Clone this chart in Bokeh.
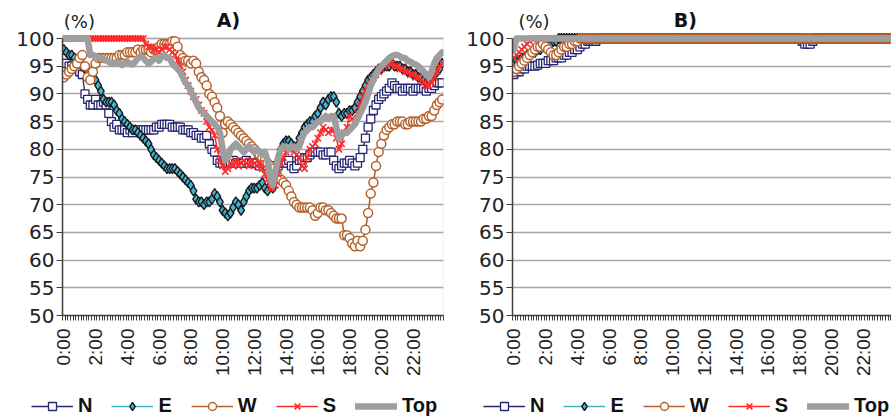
import math
from bokeh.plotting import figure
from bokeh.models import Range1d, FixedTicker, Legend, LegendItem, Label, BoxAnnotation
from bokeh.layouts import row, column
from bokeh.embed import file_html
from bokeh.resources import INLINE

# ---- data: 144 ten-minute slots per day ----
n_slots = 144
slot_hours = [i / 6 for i in range(n_slots)]

tick_hours = [0, 2, 4, 6, 8, 10, 12, 14, 16, 18, 20, 22]
tick_labels = ["0:00", "2:00", "4:00", "6:00", "8:00", "10:00", "12:00",
               "14:00", "16:00", "18:00", "20:00", "22:00"]
y_ticks = [50, 55, 60, 65, 70, 75, 80, 85, 90, 95, 100]
series_names = ["N", "E", "W", "S", "Top"]

# Panel A
N_A = [95.5, 95.5, 95, 95, 94.5, 94.5, 94, 93.5, 90, 89, 88, 88,
       89, 88, 88, 88.5, 88, 86.5, 85, 84, 84.5, 83.5, 83.5, 83.5,
       83, 83.5, 83, 83.5, 83.5, 83, 83.5, 83.5, 83.5, 83.5, 83.5, 84,
       84, 84.5, 84.5, 84.5, 84.5, 84, 84, 84, 84, 83.5, 83.5, 83.5,
       83, 83, 82.5, 82.5, 82, 82, 82.5, 81, 80, 79.5, 78, 77.5,
       77.5, 78, 77.5, 77.5, 78, 77.5, 77.5, 77.5, 77.5, 78, 77.5, 77.5,
       77.5, 77.5, 77, 77.5, 77.5, 77, 77, 76.5, 77, 77, 77.5, 77.5,
       77.5, 78, 77, 76.5, 77, 78, 78, 78.5, 78.5, 79, 79.5, 79.5,
       79.5, 79.5, 79, 79, 79.5, 79.5, 78, 77, 76.5, 77, 77.5, 77.5,
       78, 77.5, 77, 77.5, 78.5, 80, 82, 84, 85.5, 87, 88, 89,
       89.5, 90, 90.5, 91, 92, 91.5, 91, 91, 90.5, 91, 91, 91,
       90.5, 91, 91, 91, 91, 90.5, 91, 91, 91.5, 92, 92, 92]
E_A = [98, 97.5, 97, 97, 96.5, 96, 95.5, 95, 94.5, 94, 93.5, 93,
       92.5, 91.5, 90.5, 89, 88.5, 88.5, 88.5, 88, 87, 86.5, 85.5, 85,
       84.5, 84, 83.5, 83.5, 83, 82.5, 82, 81.5, 81, 80, 79, 78.5,
       78, 77.5, 77, 76.5, 76.5, 76.5, 76.5, 76, 75.5, 75, 74.5, 74,
       73.5, 72.5, 71, 70.5, 70.5, 70, 70.5, 70.5, 71, 72, 71.5, 70.5,
       69, 68.5, 68, 68.5, 69.5, 70.5, 70, 69, 70.5, 71.5, 72.5, 73,
       73, 73, 73.5, 74, 73, 72.5, 73.5, 73, 74.5, 78, 80, 81,
       81.5, 81.5, 81, 80.5, 80.5, 82, 83, 84, 84.5, 85, 85, 86,
       86.5, 87.5, 88.5, 88, 89, 89.5, 89.5, 88.5, 86.5, 86, 86.5, 86.5,
       87, 87, 87.5, 88.5, 89.5, 90.5, 91.5, 92.5, 93, 93.5, 94, 94.5,
       94.5, 95, 95, 95, 95.5, 95, 95, 95, 94.5, 94.5, 94, 94,
       93.5, 93.5, 93, 93, 92.5, 92, 92.5, 93, 93.5, 94, 94.5, 95.5]
W_A = [93, 93.5, 94, 94.5, 95, 95.5, 96.5, 97, 95, 93, 92.5, 94,
       95.5, 96.5, 96.5, 96.5, 96.5, 96.5, 96.5, 96.5, 96.5, 97, 97, 97,
       97.5, 97.5, 97.5, 97.5, 98, 97.5, 98, 98, 98, 97.5, 98, 98,
       98.5, 99, 99, 99, 99, 99.5, 99.5, 98.5, 97, 96.5, 96, 96,
       95.5, 96, 95.5, 94, 93, 92.5, 91.5, 90, 89.5, 88.5, 87.5, 86,
       83, 84.5, 85, 84.5, 84, 83.5, 83, 82.5, 82, 81.5, 81, 80.5,
       80, 79.5, 79, 78.5, 78, 77.5, 77, 76.5, 75.5, 75, 74.5, 74,
       73.5, 72.5, 71.5, 70.5, 70, 69.5, 69.5, 69.5, 69.5, 69.5, 69, 68,
       68.5, 69.5, 69.5, 69, 69, 68.5, 68, 67.5, 67.5, 67.5, 64.5, 64.5,
       64, 63, 62.5, 63.5, 62.5, 63.5, 65.5, 68.5, 72, 74, 77, 79.5,
       81, 82.5, 83.5, 84, 84.5, 84.5, 85, 85, 85, 84.5, 84.5, 85,
       85, 85, 85, 85, 85.5, 85.5, 86, 86, 87, 88, 88.5, 89]
S_A = [100, 100, 100, 100, 100, 100, 100, 100, 100, 100, 100, 100,
       100, 100, 100, 100, 100, 100, 100, 100, 100, 100, 100, 100,
       100, 100, 100, 100, 100, 100, 100, 99, 98.5, 98.5, 98, 98,
       97.5, 98, 98.5, 98.5, 98, 97.5, 97, 96, 95, 94, 92.5, 91.5,
       90.5, 89.5, 89, 88, 87, 86.5, 85, 84, 83.5, 82.5, 80, 78,
       77, 76, 76.5, 77.5, 77, 78, 77, 77.5, 78, 77.5, 77, 78,
       77.5, 77, 77.5, 76.5, 75.5, 74.5, 73, 73, 73.5, 75.5, 77.5, 78.5,
       79.5, 80, 80, 79.5, 79, 78.5, 77, 76.5, 78.5, 80, 80.5, 81,
       82, 83, 84, 83.5, 83, 83.5, 83.5, 82, 80, 81, 83, 84,
       86, 85.5, 85, 86.5, 88, 89.5, 90.5, 91.5, 92, 93, 93.5, 94,
       94.5, 95, 95.5, 95.5, 95.5, 95, 95, 94.5, 94.5, 94, 94, 93.5,
       93.5, 93, 93, 92.5, 92, 91.5, 91.5, 92, 93, 94, 95, 95.5]
Top_A = [100, 100, 100, 100, 100, 100, 100, 100, 100, 100, 97, 97,
         96.8, 96.5, 96.5, 96.2, 96, 95.8, 95.5, 95.5, 95.8, 95.5, 95.2, 95.5,
         95.8, 95.5, 95.3, 95.8, 96.5, 96.8, 96.5, 96, 95.5, 95.8, 96.3, 96.5,
         96, 96.8, 97, 96.5, 96.5, 95.5, 95, 94.5, 94, 93, 92, 91.5,
         90.5, 89.5, 88.5, 87.5, 87, 86.5, 86, 85.5, 85, 84.5, 84, 83,
         80, 78, 78.5, 80, 80.5, 81, 80.5, 80, 79.5, 80, 80.5, 80,
         79.5, 80, 79.5, 79, 79.5, 78, 75, 73.5, 76, 78.5, 80, 80.5,
         80.5, 80, 80.5, 80.5, 80, 80.5, 82, 83, 83.5, 84, 84, 84.5,
         85, 85, 85.5, 86, 85.5, 86, 86, 84, 82, 82.5, 83, 83,
         83.5, 84, 84.5, 85.5, 86.5, 87.5, 88.5, 90, 91.5, 92.5, 93.5, 94.5,
         95, 95.5, 96, 96.5, 96.8, 97, 97, 96.8, 96.5, 96.5, 96, 95.8,
         95.5, 95.3, 95, 94.5, 94, 93.5, 93, 94, 95.5, 96.5, 97, 97.5]

# Panel B
N_B = [93.5, 94, 94, 94.5, 94.5, 95, 95, 95, 95, 95.2, 95.5, 95.5,
       95.5, 96, 96, 96, 96.5, 96.5, 96.5, 97, 97, 97.5, 97.5, 98,
       98, 98.5, 99, 99, 99.5, 99.5, 99.5, 99.5, 100, 100, 100, 100,
       100, 100, 100, 100, 100, 100, 100, 100, 100, 100, 100, 100,
       100, 100, 100, 100, 100, 100, 100, 100, 100, 100, 100, 100,
       100, 100, 100, 100, 100, 100, 100, 100, 100, 100, 100, 100,
       100, 100, 100, 100, 100, 100, 100, 100, 100, 100, 100, 100,
       100, 100, 100, 100, 100, 100, 100, 100, 100, 100, 100, 100,
       100, 100, 100, 100, 100, 100, 100, 100, 100, 100, 100, 100,
       100, 99.5, 99, 99, 99, 99.5, 100, 100, 100, 100, 100, 100,
       100, 100, 100, 100, 100, 100, 100, 100, 100, 100, 100, 100,
       100, 100, 100, 100, 100, 100, 100, 100, 100, 100, 100, 100]
E_B = [95.5, 96, 96, 96.5, 96.5, 97, 97, 97.5, 97.5, 98, 98, 98.5,
       98.5, 99, 99, 99.5, 99.5, 100, 100, 100, 100, 100, 100, 100,
       100, 100, 100, 100, 100, 100, 100, 100, 100, 100, 100, 100,
       100, 100, 100, 100, 100, 100, 100, 100, 100, 100, 100, 100,
       100, 100, 100, 100, 100, 100, 100, 100, 100, 100, 100, 100,
       100, 100, 100, 100, 100, 100, 100, 100, 100, 100, 100, 100,
       100, 100, 100, 100, 100, 100, 100, 100, 100, 100, 100, 100,
       100, 100, 100, 100, 100, 100, 100, 100, 100, 100, 100, 100,
       100, 100, 100, 100, 100, 100, 100, 100, 100, 100, 100, 100,
       100, 100, 100, 100, 100, 100, 100, 100, 100, 100, 100, 100,
       100, 100, 100, 100, 100, 100, 100, 100, 100, 100, 100, 100,
       100, 100, 100, 100, 100, 100, 100, 100, 100, 100, 100, 100]
W_B = [94, 94.5, 95, 95.5, 96, 96.5, 97, 97.5, 98, 98.5, 98.5, 99,
       98.5, 98, 97.5, 97, 97, 97.5, 98, 98.5, 98.5, 99, 99, 99.5,
       99.5, 100, 100, 100, 100, 100, 100, 100, 100, 100, 100, 100,
       100, 100, 100, 100, 100, 100, 100, 100, 100, 100, 100, 100,
       100, 100, 100, 100, 100, 100, 100, 100, 100, 100, 100, 100,
       100, 100, 100, 100, 100, 100, 100, 100, 100, 100, 100, 100,
       100, 100, 100, 100, 100, 100, 100, 100, 100, 100, 100, 100,
       100, 100, 100, 100, 100, 100, 100, 100, 100, 100, 100, 100,
       100, 100, 100, 100, 100, 100, 100, 100, 100, 100, 100, 100,
       100, 100, 100, 100, 100, 100, 100, 100, 100, 100, 100, 100,
       100, 100, 100, 100, 100, 100, 100, 100, 100, 100, 100, 100,
       100, 100, 100, 100, 100, 100, 100, 100, 100, 100, 100, 100]
S_B = [96.5, 97, 97.5, 98, 98.5, 99, 99.5, 100, 100, 100, 100, 100,
       100, 100, 100, 100, 100, 100, 100, 100, 100, 100, 100, 100,
       100, 100, 100, 100, 100, 100, 100, 100, 100, 100, 100, 100,
       100, 100, 100, 100, 100, 100, 100, 100, 100, 100, 100, 100,
       100, 100, 100, 100, 100, 100, 100, 100, 100, 100, 100, 100,
       100, 100, 100, 100, 100, 100, 100, 100, 100, 100, 100, 100,
       100, 100, 100, 100, 100, 100, 100, 100, 100, 100, 100, 100,
       100, 100, 100, 100, 100, 100, 100, 100, 100, 100, 100, 100,
       100, 100, 100, 100, 100, 100, 100, 100, 100, 100, 100, 100,
       100, 100, 100, 100, 100, 100, 100, 100, 100, 100, 100, 100,
       100, 100, 100, 100, 100, 100, 100, 100, 100, 100, 100, 100,
       100, 100, 100, 100, 100, 100, 100, 100, 100, 100, 100, 100]
Top_B = [98, 100, 100, 100, 100, 100, 100, 100, 100, 100, 100, 100,
         100, 100, 100, 100, 100, 100, 100, 100, 100, 100, 100, 100,
         100, 100, 100, 100, 100, 100, 100, 100, 100, 100, 100, 100,
         100, 100, 100, 100, 100, 100, 100, 100, 100, 100, 100, 100,
         100, 100, 100, 100, 100, 100, 100, 100, 100, 100, 100, 100,
         100, 100, 100, 100, 100, 100, 100, 100, 100, 100, 100, 100,
         100, 100, 100, 100, 100, 100, 100, 100, 100, 100, 100, 100,
         100, 100, 100, 100, 100, 100, 100, 100, 100, 100, 100, 100,
         100, 100, 100, 100, 100, 100, 100, 100, 100, 100, 100, 100,
         100, 100, 100, 100, 100, 100, 100, 100, 100, 100, 100, 100,
         100, 100, 100, 100, 100, 100, 100, 100, 100, 100, 100, 100,
         100, 100, 100, 100, 100, 100, 100, 100, 100, 100, 100, 100]

# ---- styling ----
C_N = "#262673"
C_E = "#45B4D3"
C_E_EDGE = "#1A1A1A"
C_W = "#B5632C"
C_S = "#FF2A2A"
C_TOP = "#9E9E9E"
TICK_FONT = "DejaVu Sans"
HOUR_PX = 381 / 24.0
MAIN_H = 392
LEG_H = 25
FRAME_BOTTOM = 315          # page pixel of the 50 % line
PX_PER_UNIT = (315 - 38) / 50.0
Y_TOP = 100 + 38 / PX_PER_UNIT   # frame reaches the top of the page

STYLE = {
    "N": dict(line=dict(line_color=C_N, line_width=1.3),
              mark=dict(marker="square", size=8, line_color=C_N, fill_color="white",
                        line_width=1.3)),
    "E": dict(line=dict(line_color=C_E, line_width=1.6),
              mark=dict(marker="diamond", size=10, line_color=C_E_EDGE, fill_color=C_E,
                        line_width=1.4)),
    "W": dict(line=dict(line_color=C_W, line_width=1.6),
              mark=dict(marker="circle", size=9, line_color=C_W, fill_color="white",
                        line_width=1.5)),
    "S": dict(line=dict(line_color=C_S, line_width=1.6),
              mark=dict(marker="x", size=9, line_color=C_S, line_width=1.6)),
    "Top": dict(line=dict(line_color=C_TOP, line_width=6.5, line_join="round",
                          line_cap="round"), mark=None),
}


def make_panel(title, N, E, W, S, Top, width, border_left, border_right, frame_w,
               title_x, pct_x):
    x0 = -1 / 12
    x1 = x0 + frame_w / HOUR_PX
    p = figure(width=width, height=MAIN_H, output_backend="svg", toolbar_location=None,
               x_range=Range1d(x0, x1), y_range=Range1d(50, Y_TOP),
               min_border_left=border_left, min_border_right=border_right,
               min_border_top=0, min_border_bottom=MAIN_H - FRAME_BOTTOM)
    p.outline_line_color = None
    p.xgrid.visible = False
    p.ygrid.grid_line_color = "#A6A6A6"
    p.ygrid.grid_line_width = 1.3
    p.ygrid.ticker = FixedTicker(ticks=y_ticks)

    # plot-area border (Excel style)
    p.add_layout(BoxAnnotation(left=x0, right=24 - 1 / 12, bottom=50, top=100,
                               fill_alpha=0, line_color="#A6A6A6", line_width=1.3,
                               level="underlay"))

    yax = p.yaxis[0]
    yax.ticker = FixedTicker(ticks=y_ticks)
    yax.bounds = (50, 100)
    yax.major_tick_out = 6
    yax.major_tick_in = 0
    yax.minor_tick_out = 0
    yax.axis_line_color = "#404040"
    yax.axis_line_width = 1.5
    yax.major_tick_line_color = "#404040"
    yax.major_label_text_font = TICK_FONT
    yax.major_label_text_font_size = "20px"
    yax.major_label_text_color = "#222222"
    yax.major_label_standoff = 2

    xax = p.xaxis[0]
    minor = [h - 1 / 12 for h in slot_hours] + [slot_hours[-1] + 1 / 12]
    xax.ticker = FixedTicker(ticks=tick_hours, minor_ticks=minor)
    xax.major_label_overrides = {h: lab for h, lab in zip(tick_hours, tick_labels)}
    xax.major_label_orientation = math.pi / 2
    xax.major_tick_out = 0
    xax.major_tick_in = 0
    xax.minor_tick_out = 5
    xax.minor_tick_in = 0
    xax.minor_tick_line_color = "#404040"
    xax.axis_line_color = "#404040"
    xax.axis_line_width = 1.5
    xax.major_label_text_font = "Liberation Sans"
    xax.major_label_text_font_size = "19px"
    xax.major_label_text_color = "#222222"
    xax.major_label_standoff = 8

    data = {"N": N, "E": E, "W": W, "S": S, "Top": Top}
    for name in series_names:
        st = STYLE[name]
        p.line(slot_hours, data[name], **st["line"])
        if st["mark"] is not None:
            p.scatter(slot_hours, data[name], **st["mark"])

    p.add_layout(Label(x=pct_x, y=103.1, text="(%)", text_align="left",
                       text_baseline="alphabetic", text_font=TICK_FONT,
                       text_font_size="18px", text_color="#222222"))
    p.add_layout(Label(x=title_x, y=103.4, text=title, text_align="center",
                       text_baseline="alphabetic", text_font=TICK_FONT,
                       text_font_style="bold", text_font_size="19px",
                       text_color="#111111"))
    return p


def make_legend(width, leg_x, first_values):
    # legend strip: the sample glyphs use each series' first reading,
    # placed outside this strip's visible range so only the key is seen
    q = figure(width=width, height=LEG_H, output_backend="svg", toolbar_location=None,
               x_range=Range1d(1000, 1001), y_range=Range1d(1000, 1001),
               x_axis_type=None, y_axis_type=None, min_border=0)
    q.outline_line_color = None
    q.xgrid.visible = False
    q.ygrid.visible = False
    items = []
    for name in series_names:
        st = STYLE[name]
        xs, ys = [slot_hours[0]], [first_values[name]]
        rs = [q.line(xs, ys, **st["line"])]
        if st["mark"] is not None:
            rs.append(q.scatter(xs, ys, **st["mark"]))
        items.append(LegendItem(label=name, renderers=rs))
    leg = Legend(items=items, orientation="horizontal", location=(leg_x, 0),
                 glyph_width=42, glyph_height=20, label_standoff=5, spacing=19,
                 padding=0, margin=0, background_fill_alpha=0, border_line_alpha=0,
                 label_text_font="Liberation Sans", label_text_font_style="bold",
                 label_text_font_size="20px", label_text_color="#111111",
                 label_height=20, label_width=0)
    q.add_layout(leg)
    return q


pA = make_panel("A)", N_A, E_A, W_A, S_A, Top_A, width=463, border_left=62,
                border_right=20, frame_w=381, title_x=10.37, pct_x=0.0)
pB = make_panel("B)", N_B, E_B, W_B, S_B, Top_B, width=428, border_left=49,
                border_right=0, frame_w=379, title_x=10.81, pct_x=0.29)
lA = make_legend(463, 31, {"N": N_A[0], "E": E_A[0], "W": W_A[0], "S": S_A[0],
                           "Top": Top_A[0]})
lB = make_legend(428, 20, {"N": N_B[0], "E": E_B[0], "W": W_B[0], "S": S_B[0],
                           "Top": Top_B[0]})

layout = column(row(pA, pB, spacing=0), row(lA, lB, spacing=0), spacing=0)
open("out.html", "w").write(file_html(layout, INLINE))
